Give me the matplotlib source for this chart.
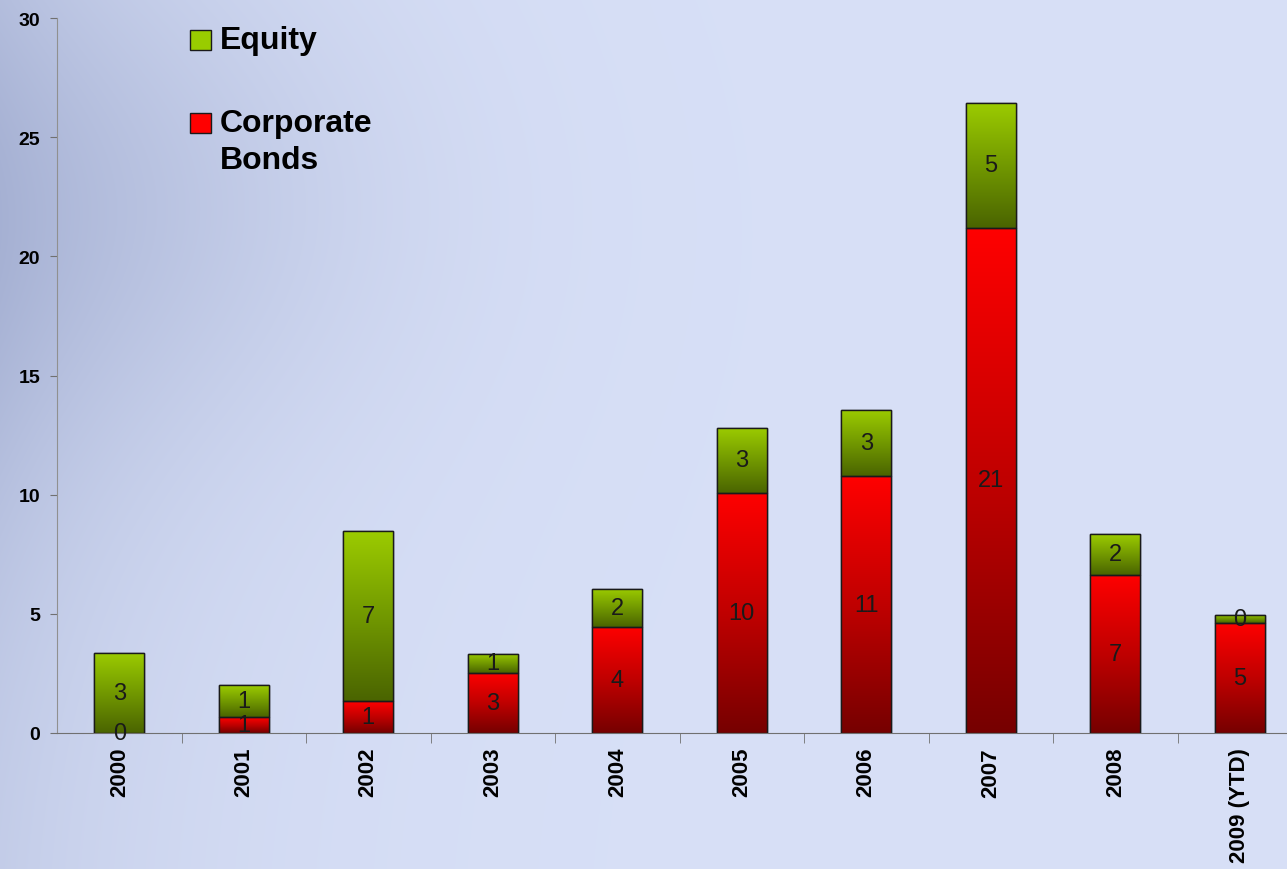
import numpy as np
import matplotlib.pyplot as plt
from matplotlib.colors import LinearSegmentedColormap
from matplotlib.patches import Rectangle

# values
years = ["2000", "2001", "2002", "2003", "2004", "2005", "2006", "2007", "2008", "2009 (YTD)"]
bonds = [0.0, 0.67, 1.34, 2.52, 4.45, 10.07, 10.78, 21.19, 6.63, 4.62]
equity = [3.36, 1.34, 7.14, 0.8, 1.6, 2.73, 2.77, 5.25, 1.72, 0.34]

plt.rcParams['font.family'] = ['Liberation Sans', 'DejaVu Sans']

fig = plt.figure(figsize=(12.87, 8.7), dpi=100)

# background: light blue wash, a bit darker toward the upper left
bg = fig.add_axes([0, 0, 1, 1], zorder=0)
H, W = 870, 1287
yy, xx = np.mgrid[0:H, 0:W]
light = np.array([216, 224, 247]) / 255.0
dark = np.array([150, 162, 200]) / 255.0
k = 0.6 * np.exp(-xx / 200.0) * (0.5 + 0.5 * np.exp(-((yy - 250) / 350.0) ** 2))
k += 0.2 * np.exp(-((xx - 120) / 280.0) ** 2 - ((yy - 200) / 220.0) ** 2)
k = np.clip(k, 0, 1)[..., None]
img = light * (1 - k) + dark * k
bg.imshow(img, aspect='auto', extent=[0, 1, 0, 1])
bg.axis('off')

ax = fig.add_axes([57 / W, 136 / H, 1245 / W, 715 / H], zorder=1)
ax.set_facecolor('none')

x = np.arange(len(years))
width = 0.4
red_cmap = LinearSegmentedColormap.from_list('r', ['#760000', '#c00000', '#ff0000'])
green_cmap = LinearSegmentedColormap.from_list('g', ['#4a6400', '#729900', '#9ccc00'])

b1 = ax.bar(x, bonds, width, color='#ff0000', edgecolor='#1a1a1a', linewidth=1, zorder=2)
b2 = ax.bar(x, equity, width, bottom=bonds, color='#99cc00', edgecolor='#1a1a1a', linewidth=1, zorder=2)

grad = np.linspace(0, 1, 256).reshape(-1, 1)
for bars, cmap in [(b1, red_cmap), (b2, green_cmap)]:
    for p in bars:
        x0, y0 = p.get_x(), p.get_y()
        w, h = p.get_width(), p.get_height()
        if h <= 0:
            continue
        im = ax.imshow(grad, cmap=cmap, origin='lower', aspect='auto',
                       extent=[x0, x0 + w, y0, y0 + h], zorder=2.5)
        im.set_clip_path(p)
        ax.add_patch(Rectangle((x0, y0), w, h, fill=False, edgecolor='#1a1a1a',
                               linewidth=1, zorder=3))

# segment labels
for i in range(len(years)):
    ax.text(x[i], bonds[i] / 2, f"{int(round(bonds[i]))}", ha='center', va='center',
            fontsize=17, color='#1a1a1a', zorder=4)
    ax.text(x[i], bonds[i] + equity[i] / 2, f"{int(round(equity[i]))}", ha='center', va='center',
            fontsize=17, color='#1a1a1a', zorder=4)

ax.set_xlim(-0.5, 9.5)
ax.set_ylim(0, 30)
ax.set_yticks([0, 5, 10, 15, 20, 25, 30])
ax.set_xticks(x)
ax.set_xticklabels(years, rotation=90, fontsize=16, fontweight='bold')
ax.set_xticks(np.arange(0.5, 9.5, 1), minor=True)
ax.tick_params(axis='x', which='major', length=0, pad=10)
ax.tick_params(axis='x', which='minor', length=7, color='#707070', direction='out')
ax.tick_params(axis='y', length=5, color='#707070', labelsize=14, pad=7)
for lab in ax.get_yticklabels():
    lab.set_fontweight('bold')
for s in ['top', 'right']:
    ax.spines[s].set_visible(False)
ax.spines['left'].set_color('#909090')
ax.spines['bottom'].set_color('#707070')
ax.spines['left'].set_linewidth(0.8)

# legend drawn by hand (marker squares + text)
fig.patches.append(Rectangle((190 / W, 1 - 51 / H), 21 / W, 20 / H, transform=fig.transFigure,
                             facecolor='#99cc00', edgecolor='#1a1a1a', linewidth=1, zorder=5))
fig.patches.append(Rectangle((190 / W, 1 - 134 / H), 21 / W, 20 / H, transform=fig.transFigure,
                             facecolor='#ff0000', edgecolor='#1a1a1a', linewidth=1, zorder=5))
fig.text(220 / W, 1 - 41 / H, "Equity", fontsize=23, fontweight='bold', va='center', ha='left')
fig.text(220 / W, 1 - 124 / H, "Corporate", fontsize=23, fontweight='bold', va='center', ha='left')
fig.text(220 / W, 1 - 161 / H, "Bonds", fontsize=23, fontweight='bold', va='center', ha='left')

fig.savefig('out.png', dpi=100)
